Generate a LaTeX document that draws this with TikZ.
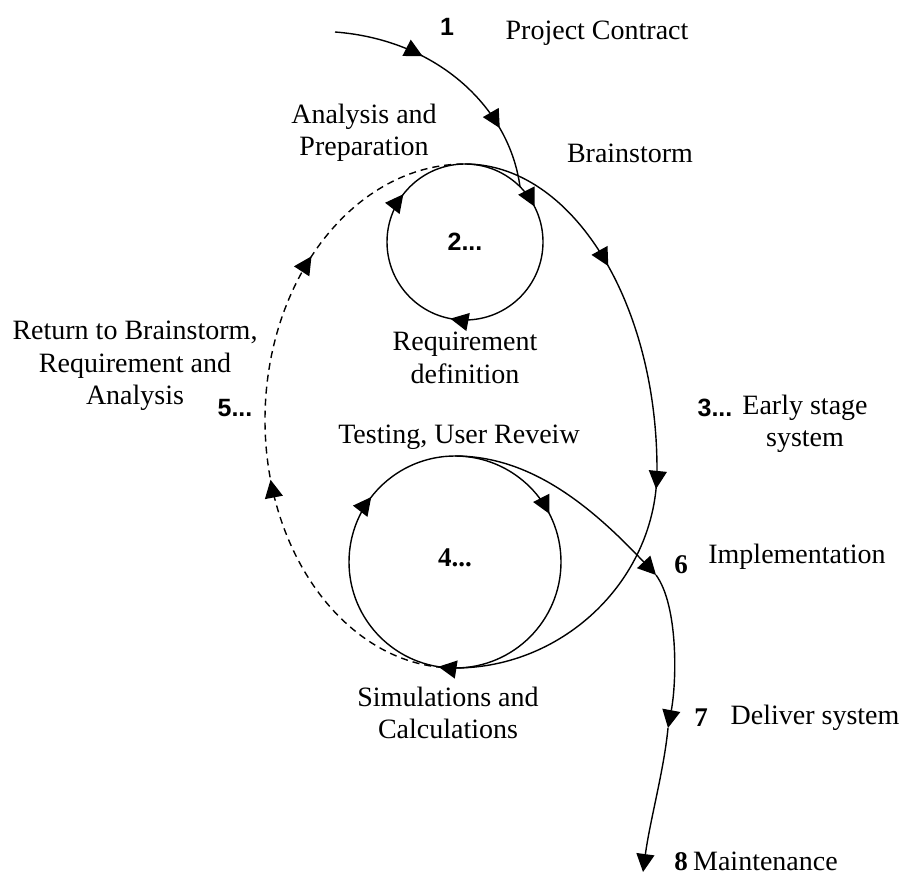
\documentclass[tikz,border=0pt]{standalone}
\usepackage{fontspec}
\setmainfont{Liberation Serif}
\setsansfont{Liberation Sans}
\usetikzlibrary{arrows.meta, positioning, decorations.markings}
\tikzset{
  >={Triangle[length=18pt, width=18pt]},
  flow/.style   ={line width=1.4pt},
  back/.style   ={line width=1.4pt, dash pattern=on 7pt off 5pt},
  mk/.style     ={postaction={decorate, decoration={markings,
                  mark=at position #1 with {\arrow{>}}}}},
  txt/.style    ={align=center, inner sep=1pt, font=\fontsize{28}{32.5}\selectfont},
  num/.style    ={inner sep=1pt, font=\fontsize{25}{28}\selectfont\sffamily\bfseries},
  numr/.style   ={inner sep=1pt, font=\fontsize{27}{28}\selectfont\bfseries},
}
\begin{document}
\begin{tikzpicture}[x=1pt, y=-1pt]
  \useasboundingbox (0,0) rectangle (904,877);

  % points of the loops
  \coordinate (req)   at (465,242);
  \coordinate (sim)   at (455,562);
  \coordinate (top)   at (465,164);
  \coordinate (rgt)   at (657,470);
  \coordinate (bot)   at (455,668);
  \coordinate (lft)   at (265,420);
  \coordinate (start) at (335,32);
  \coordinate (join)  at (520,187);
  \coordinate (out)   at (455,456);
  \coordinate (p6)    at (656,575);
  \coordinate (p7)    at (668,728);
  \coordinate (end)   at (643,872);

  % paths
  \draw[flow, mk=0.35, mk=0.76] (start) .. controls (440,40) and (510,110) .. (join);
  \draw[flow, mk=0.28, mk=0.605, mk=0.925] (req) circle (78);
  \draw[flow, mk=0.275, mk=0.605, mk=0.925] (sim) circle (106);
  \draw[flow, mk=0.26, mk=0.585] (top) .. controls (572,164) and (657,302) .. (rgt)
        .. controls (657,578) and (565,668) .. (bot);
  \draw[back, mk=0.405, mk=0.735] (bot) .. controls (350,668) and (265,557) .. (lft)
        .. controls (265,279) and (355,164) .. (top);
  \draw[flow, ->] (out) .. controls (530,456) and (590,505) .. (p6);
  \draw[flow, ->] (p6) .. controls (678,605) and (677,680) .. (p7);
  \draw[flow, ->] (p7) .. controls (664,770) and (650,820) .. (end);

  % labels
  \node[num]  (n1) at (447,27)  {1};
  \node[txt]  (contract) at (597,33) {Project Contract};
  \node[txt]  (prep) at (364,133) {Analysis and\\Preparation};
  \node[txt]  (brain) at (630,153) {Brainstorm};
  \node[num]  (n2) at (req) {2...};
  \node[txt]  (reqdef) at (465,358) {Requirement\\definition};
  \node[txt]  (ret) at (135,366) {Return to Brainstorm,\\Requirement and\\Analysis};
  \node[num]  (n5) at (235,408) {5...};
  \node[num]  (n3) at (715,408) {3...};
  \node[txt]  (early) at (805,424) {Early stage\\system};
  \node[txt]  (test) at (459,437) {Testing, User Reveiw};
  \node[numr] (n4) at (455,558) {4...};
  \node[numr] (n6) at (681,565) {6};
  \node[txt]  (impl) at (797,557) {Implementation};
  \node[txt]  (simcalc) at (448,713) {Simulations and\\Calculations};
  \node[numr] (n7) at (701,718) {7};
  \node[txt]  (deliver) at (815,718) {Deliver system};
  \node[numr] (n8) at (681,862) {8};
  \node[txt, base right=3pt of n8] (maint) {Maintenance};
\end{tikzpicture}
\end{document}
